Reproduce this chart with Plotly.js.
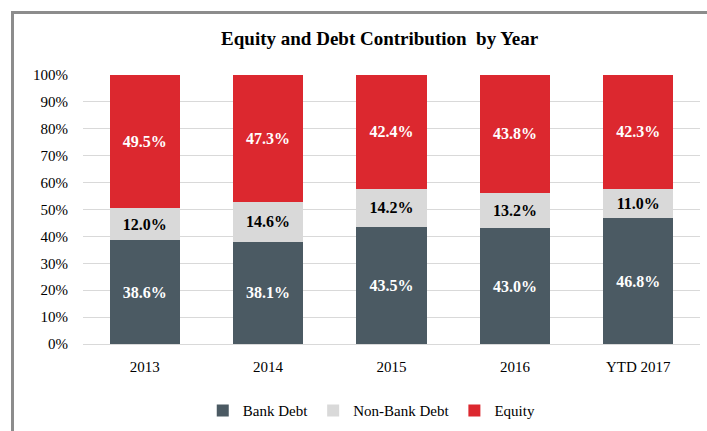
<!DOCTYPE html>
<html><head><meta charset="utf-8">
<script src="https://cdn.plot.ly/plotly-3.0.1.min.js"></script>
<style>
html,body{margin:0;padding:0;background:#fff;}
#chart{width:707px;height:431px;position:relative;}
#frame{position:absolute;left:11px;top:11px;width:700px;height:430px;border-left:3px solid #8c8c8c;border-top:3px solid #8c8c8c;pointer-events:none;}
</style></head>
<body>
<div id="wrap" style="position:relative;width:707px;height:431px;">
<div id="chart"></div>
<div id="frame"></div>
</div>
<script>
const categories = ["2013", "2014", "2015", "2016", "YTD 2017"];
const bankDebt = [38.6, 38.1, 43.5, 43.0, 46.8];
const nonBankDebt = [12.0, 14.6, 14.2, 13.2, 11.0];
const equity = [49.5, 47.3, 42.4, 43.8, 42.3];
const yTicks = [0, 10, 20, 30, 40, 50, 60, 70, 80, 90, 100];

const serif = "Liberation Serif";
function series(name, vals, color, txtColor) {
  return {
    type: "bar", name: name, x: categories, y: vals,
    marker: {color: color},
    text: vals.map(v => v.toFixed(1) + "%"),
    textposition: "inside", insidetextanchor: "middle",
    constraintext: "none", textangle: 0,
    textfont: {family: serif, size: 16, color: txtColor, weight: "bold"},
    hoverinfo: "skip"
  };
}
const data = [
  series("Bank Debt", bankDebt, "#4b5a63", "#ffffff"),
  series("Non-Bank Debt", nonBankDebt, "#d9d9d9", "#000000"),
  series("Equity", equity, "#dc282f", "#ffffff")
];
const layout = {
  width: 707, height: 431,
  margin: {l: 83, r: 7, t: 75, b: 87, autoexpand: false},
  barmode: "stack", bargap: 0.43,
  paper_bgcolor: "#ffffff", plot_bgcolor: "#ffffff",
  font: {family: serif, size: 15, color: "#000"},
  title: {text: "<b>Equity and Debt Contribution  by Year</b>", x: 0.537, xref: "container", xanchor: "center", y: 0.91, yref: "container", yanchor: "middle", font: {family: serif, size: 19, color: "#000"}},
  xaxis: {type: "category", showline: false, ticks: "", tickfont: {family: serif, size: 15, color: "#000"}, ticklabelstandoff: 12},
  yaxis: {range: [0, 100], tickvals: yTicks, ticktext: yTicks.map(v => v + "%"), showgrid: true, gridcolor: "#d9d9d9", gridwidth: 1, zeroline: true, zerolinecolor: "#d9d9d9", zerolinewidth: 1, showline: false, ticks: "", tickfont: {family: serif, size: 15, color: "#000"}, ticklabelstandoff: 14},
  showlegend: true,
  legend: {orientation: "h", x: 0.468, xanchor: "center", y: -0.248, yanchor: "middle", font: {family: serif, size: 15, color: "#000"}, traceorder: "normal", itemwidth: 30, itemsizing: "constant"}
};
Plotly.newPlot("chart", data, layout, {displayModeBar: false, staticPlot: true});
</script>
</body></html>
